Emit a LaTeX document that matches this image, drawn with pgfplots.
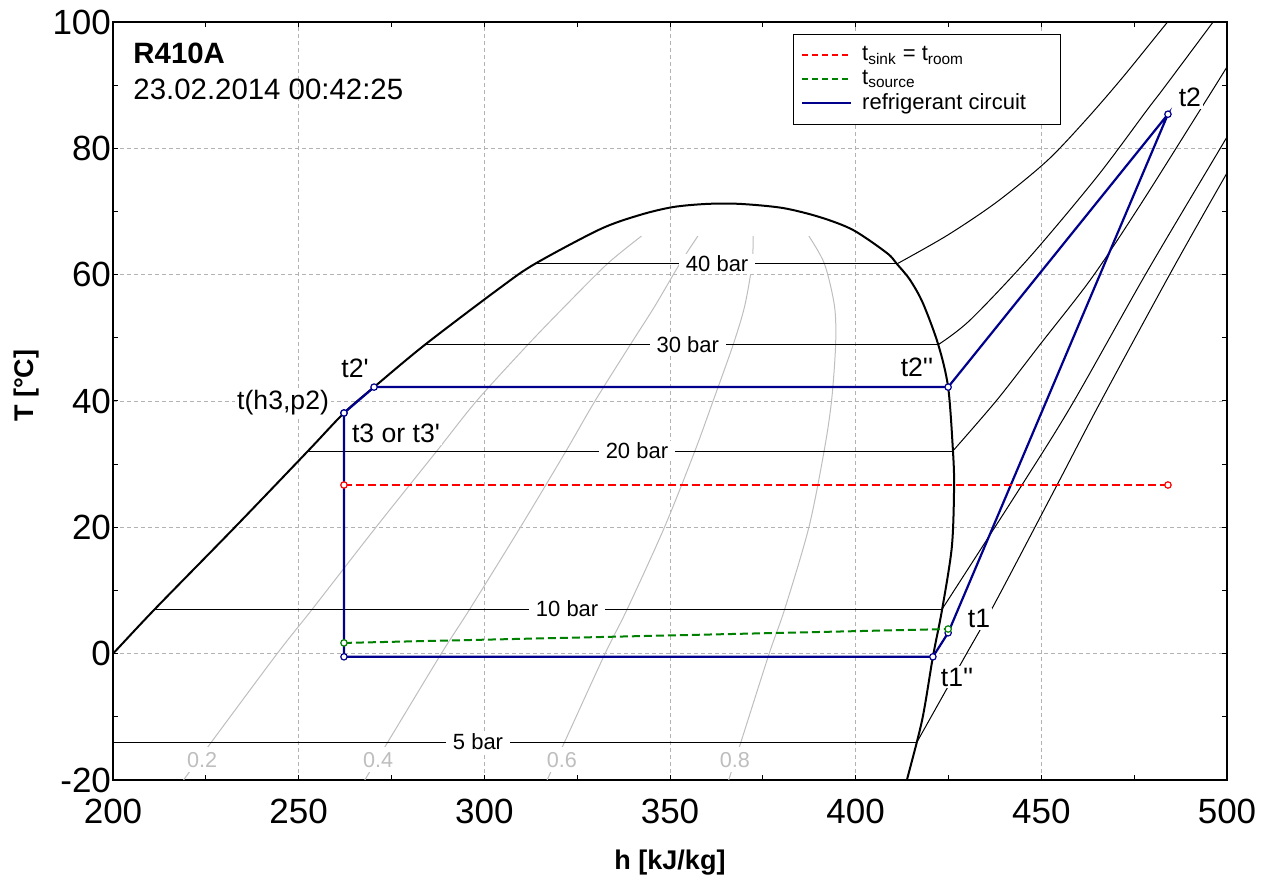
\documentclass[border=0pt]{standalone}
\usepackage{fontspec}
\setmainfont{Liberation Sans}
\usepackage{pgfplots}
\pgfplotsset{compat=1.18}
\definecolor{cyc}{RGB}{0,0,140}
\definecolor{qgray}{RGB}{190,190,190}
\definecolor{dgreen}{RGB}{0,128,0}
\begin{document}
\begin{tikzpicture}
\begin{axis}[
  at={(0,0)}, anchor=south west,
  scale only axis, width=557pt, height=379pt,
  xmin=200, xmax=500, ymin=-20, ymax=100,
  xtick={200,250,...,500}, ytick={-20,0,...,100},
  minor x tick num=1, minor y tick num=1,
  tick align=inside, major tick length=2.5pt, minor tick length=2.5pt,
  grid=major,
  major grid style={gray!60, line width=0.4pt, dash pattern=on 2pt off 1.5pt},
  axis line style={line width=1pt},
  tick style={black, line width=0.5pt},
  /pgf/number format/assume math mode=true,
  ticklabel style={font=\fontsize{17.5}{20}\selectfont},
  xticklabel style={yshift=-6pt},
  yticklabel style={xshift=2.5pt},
  xlabel={h [kJ/kg]}, ylabel={T [°C]},
  label style={font=\bfseries\fontsize{13.5}{16}\selectfont},
  xlabel style={at={(axis description cs:0.5,-0.1095)}, anchor=center},
  ylabel style={at={(axis description cs:-0.0772,0.52)}, anchor=center},
  legend style={at={(axis description cs:0.610,0.984)}, anchor=north west,
    draw=black, line width=0.5pt, font=\fontsize{11}{13}\selectfont,
    inner xsep=4pt, inner ysep=4pt, row sep=-0.8pt,
    cells={anchor=west, inner ysep=0.5pt},
    /tikz/every odd column/.append style={column sep=3pt}},
  legend image code/.code={\draw[#1] (0pt,0pt) -- (24.5pt,0pt);},
]
\addlegendimage{red, line width=1pt, dash pattern=on 3pt off 2pt}
\addlegendentry{t\textsubscript{sink} = t\textsubscript{room}}
\addlegendimage{dgreen, line width=1pt, dash pattern=on 3pt off 2pt}
\addlegendentry{t\textsubscript{source}}
\addlegendimage{cyc, line width=1.1pt}
\addlegendentry{refrigerant circuit\hspace*{11pt}}

% quality lines
\addplot[qgray, line width=0.5pt, smooth, forget plot] coordinates {(219,-20) (226.5,-14) (244.2,0) (253.7,7.07) (270.8,20) (287.2,32.08) (297.9,40) (311.7,48.9) (321.7,55) (333.1,61.7) (342.3,66.1)};
\addplot[qgray, line width=0.5pt, smooth, forget plot] coordinates {(267.8,-20) (274.0,-14) (288.4,0) (296.1,7.07) (309.7,20) (322.0,32.08) (329.8,40) (339.3,48.9) (345.9,55) (352.6,61.7) (357.5,66.1)};
\addplot[qgray, line width=0.5pt, smooth, forget plot] coordinates {(316.9,-20) (321.6,-14) (332.5,0) (338.5,7.07) (348.5,20) (356.7,32.08) (361.6,40) (367.0,48.9) (370.1,55) (372.1,61.7) (372.4,66.1)};
\addplot[qgray, line width=0.5pt, smooth, forget plot] coordinates {(365.8,-20) (369.1,-14) (376.7,0) (380.9,7.07) (387.4,20) (391.5,32.08) (393.5,40) (394.6,48.9) (394.3,55) (391.6,61.7) (387.4,66.1)};
\begin{scope}[every node/.style={fill=white, text=qgray, inner xsep=1pt, inner ysep=2.5pt, font=\fontsize{10.8}{12}\selectfont}]
\node at (axis cs:224,-16.8) {0.2};
\node at (axis cs:271.4,-16.8) {0.4};
\node at (axis cs:320.9,-16.8) {0.6};
\node at (axis cs:367.5,-16.8) {0.8};
\end{scope}

% isobars
\addplot[black, line width=0.5pt, forget plot] coordinates {(313.6,61.69) (411.1,61.69)};
\addplot[black, line width=0.5pt, smooth, forget plot] coordinates {(411.1,61.7) (424.6,66.2) (438,71.5) (451.5,78.0) (462,84.5) (472,91.3) (484,100) (487,102)};
\addplot[black, line width=0.5pt, forget plot] coordinates {(284.0,48.9) (422.2,48.9)};
\addplot[black, line width=0.5pt, smooth, forget plot] coordinates {(422.2,48.9) (430.8,52.8) (446.9,62.8) (465.0,75.5) (478.5,86.1) (482.8,89.4) (496.0,99.8) (500,103)};
\addplot[black, line width=0.5pt, forget plot] coordinates {(252.5,32.08) (426.2,32.08)};
\addplot[black, line width=0.5pt, smooth, forget plot] coordinates {(426.2,32.1) (438.1,40.2) (449.6,48.9) (463.6,59.5) (476.6,71.0) (491.4,84.8) (500,92.9) (503,96)};
\addplot[black, line width=0.5pt, forget plot] coordinates {(211.3,7.07) (423.3,7.07)};
\addplot[black, line width=0.5pt, smooth, forget plot] coordinates {(423.3,7.07) (445.1,27.0) (458.5,39.7) (478.7,60.7) (500,81.8) (503,85)};
\addplot[black, line width=0.5pt, forget plot] coordinates {(190,-14.0) (416.5,-14.0)};
\addplot[black, line width=0.5pt, smooth, forget plot] coordinates {(416.5,-14.0) (428.9,-1.0) (437.5,8.0) (454.5,27.0) (465.8,39.7) (485.2,60.7) (500,76.1) (503,79)};

\begin{scope}[every node/.style={fill=white, inner xsep=3.5pt, inner ysep=1pt, font=\fontsize{11}{13}\selectfont}]
\node at (axis cs:362.7,61.69) {40 bar};
\node at (axis cs:354.8,48.9) {30 bar};
\node at (axis cs:341.1,32.08) {20 bar};
\node at (axis cs:322.3,7.07) {10 bar};
\node at (axis cs:298.3,-14.0) {5 bar};
\end{scope}

% saturation dome
\addplot[black, line width=1pt, smooth, tension=0.5, forget plot] coordinates {
(193.5,-4) (200,0) (211.3,7.07) (232.8,20) (252.5,32.08) (262.2,38.1) (270.3,42.2)
(284.0,48.9) (304.2,57.9) (313.6,61.7) (331.2,67.2) (341.9,69.45) (350.8,70.7)
(360.0,71.2) (368.9,71.2) (380.4,70.55) (390.4,69.1) (399.3,67.07) (408.4,63.43)
(411.1,61.7) (414.6,59.2) (418.1,55.5) (422.2,49.0) (424.9,42.2) (426.2,32.1)
(426.5,26.4) (425.9,16.9) (423.3,7.07) (420.8,-0.5) (417.9,-10.5) (413.8,-20) (412.5,-23)};

% point labels
\begin{scope}[every node/.style={fill=white, inner sep=1pt, font=\fontsize{13.3}{15}\selectfont}]
\node at (axis cs:265.2,45.2) {t2\textquotesingle};
\node at (axis cs:245.8,39.8) {t(h3,p2)};
\node at (axis cs:276.2,34.8) {t3 or t3\textquotesingle};
\node at (axis cs:416.5,45.4) {t2\textquotesingle\textquotesingle};
\node at (axis cs:490.0,88.0) {t2};
\node at (axis cs:433.2,5.5) {t1};
\node at (axis cs:427.3,-3.7) {t1\textquotesingle\textquotesingle};
\end{scope}

% refrigerant circuit
\addplot[cyc, line width=1.1pt, mark=*, mark size=1.6pt, mark options={fill=white, draw=cyc, line width=0.6pt}, forget plot] coordinates {
(262.2,38.1) (270.3,42.2) (424.9,42.2) (484.1,85.4) (424.9,3.3) (420.8,-0.5) (262.2,-0.5) (262.2,38.1)};

% sink and source
\addplot[red, line width=1pt, dash pattern=on 4pt off 2pt, mark=*, mark size=1.6pt, mark options={solid, fill=white, draw=red, line width=0.6pt}, forget plot] coordinates {(262.2,26.7) (484.1,26.7)};
\addplot[dgreen, line width=1pt, dash pattern=on 4pt off 2pt, mark=*, mark size=1.6pt, mark options={solid, fill=white, draw=dgreen, line width=0.6pt}, forget plot] coordinates {(262.2,1.7) (424.9,3.9)};

\node[anchor=base west, font=\bfseries\fontsize{14.7}{17}\selectfont, inner sep=0pt] at (axis cs:205.4,93.5) {R410A};
\node[anchor=base west, font=\fontsize{14.7}{17}\selectfont, inner sep=0pt] at (axis cs:205.4,87.8) {23.02.2014 00:42:25};
\end{axis}
\pgfresetboundingbox
\path[use as bounding box] (-56.5pt,-50.5pt) rectangle (577.5pt,390pt);
\end{tikzpicture}
\end{document}
